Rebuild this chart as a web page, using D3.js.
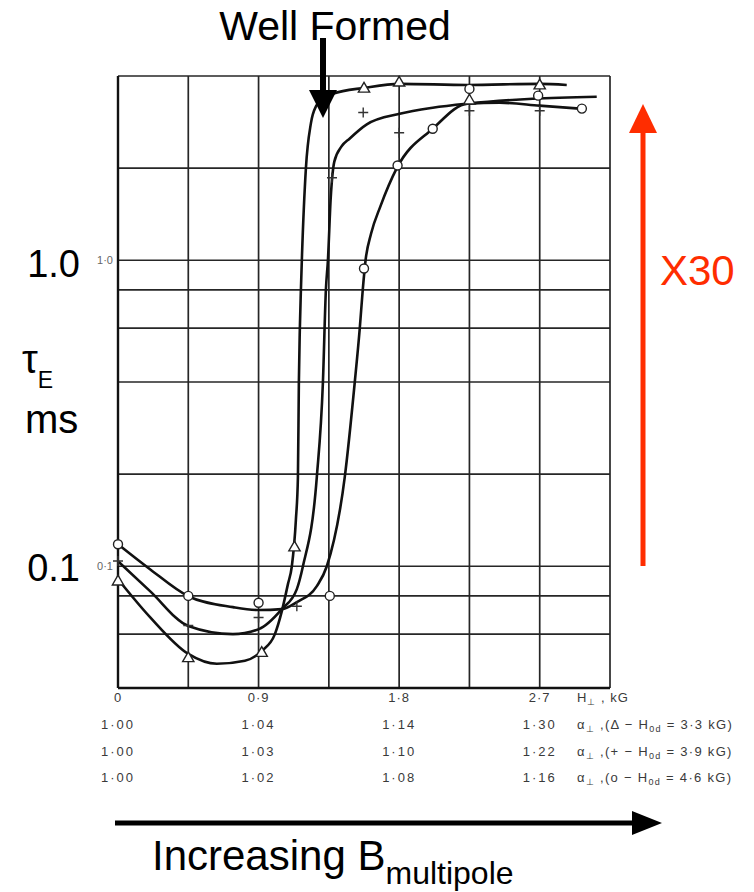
<!DOCTYPE html>
<html><head><meta charset="utf-8">
<script src="https://cdn.jsdelivr.net/npm/d3@7"></script>
<style>body{margin:0;background:#fff}svg{display:block}</style>
</head><body><svg id="c" width="754" height="892"></svg>
<script>
// ---- data ----
const xGrid = [0, 0.45, 0.9, 1.35, 1.8, 2.25, 2.7, 3.15];
const yGrid = [0.04, 0.06, 0.08, 0.1, 0.2, 0.4, 0.6, 0.8, 1, 2, 4];
const xTickValues = [0, 0.9, 1.8, 2.7];
const xTickLabels = ["0", "0·9", "1·8", "2·7"];
const yTickValues = [1, 0.1];
const yTickLabels = ["1·0", "0·1"];
const alphaTriangle = ["1·00", "1·04", "1·14", "1·30"];
const alphaPlus = ["1·00", "1·03", "1·10", "1·22"];
const alphaCircle = ["1·00", "1·02", "1·08", "1·16"];
const legendSymbols = ["Δ", "+", "o"];
const legendH0d = ["3·3", "3·9", "4·6"];

// fitted curves (H⊥ in kG, τE in ms)
const curveTriangleX = [0, 0.205, 0.45, 0.633, 0.8125, 0.921, 1.0045, 1.049, 1.088, 1.113, 1.139, 1.152, 1.158, 1.164, 1.171, 1.177, 1.203, 1.235, 1.27, 1.32, 1.376, 1.58, 1.804, 2.239, 2.70, 2.873];
const curveTriangleY = [0.0907, 0.0682, 0.0517, 0.0480, 0.0491, 0.0529, 0.0600, 0.0713, 0.0874, 0.100, 0.142, 0.196, 0.400, 0.591, 0.799, 1.0, 1.995, 2.8, 3.2, 3.4, 3.50, 3.66, 3.77, 3.74, 3.77, 3.74];
const curvePlusX = [0, 0.205, 0.45, 0.736, 0.902, 1.049, 1.145, 1.184, 1.273, 1.312, 1.331, 1.344, 1.362, 1.385, 1.43, 1.484, 1.593, 1.804, 2.015, 2.239, 2.655, 3.065];
const curvePlusY = [0.1038, 0.0829, 0.0638, 0.0600, 0.0623, 0.0724, 0.0842, 0.100, 0.196, 0.400, 0.80, 1.0, 1.6, 2.1, 2.35, 2.5, 2.78, 3.01, 3.15, 3.25, 3.37, 3.42];
const curveCircleX = [0, 0.205, 0.45, 0.736, 0.902, 1.049, 1.145, 1.273, 1.337, 1.452, 1.516, 1.548, 1.567, 1.585, 1.62, 1.68, 1.785, 2.015, 2.239, 2.444, 2.70, 2.956];
const curveCircleY = [0.118, 0.0978, 0.0798, 0.0735, 0.0719, 0.0724, 0.0763, 0.0861, 0.100, 0.196, 0.400, 0.60, 0.80, 1.0, 1.22, 1.5, 2.0, 2.69, 3.25, 3.27, 3.20, 3.13];

// measured points
const markTriangleX = [0, 0.45, 0.92, 1.13, 1.575, 1.8, 2.25, 2.7];
const markTriangleY = [0.089, 0.050, 0.052, 0.115, 3.63, 3.80, 3.32, 3.72];
const markPlusX = [0, 0.45, 0.9, 1.145, 1.37, 1.57, 1.8, 2.25, 2.7];
const markPlusY = [0.104, 0.064, 0.068, 0.074, 1.86, 3.04, 2.61, 3.08, 3.08];
const markCircleX = [0, 0.45, 0.9, 1.356, 1.575, 1.79, 2.015, 2.25, 2.69, 2.97];
const markCircleY = [0.118, 0.080, 0.076, 0.080, 0.94, 2.04, 2.69, 3.63, 3.45, 3.13];

// ---- drawing ----
const svg = d3.select("#c");
const x = d3.scaleLinear().domain([0, 3.15]).range([118, 610]);
const y = d3.scaleLog().domain([0.04, 4]).range([688, 76]);
const ink = "#262626";
const sans = "'Liberation Sans', Arial, sans-serif";

// grid
const g = svg.append("g");
g.selectAll(".vg").data(xGrid).enter().append("line")
  .attr("x1", d => x(d)).attr("x2", d => x(d)).attr("y1", y(4)).attr("y2", y(0.04))
  .attr("stroke", ink).attr("stroke-width", 1.7);
g.selectAll(".hg").data(yGrid).enter().append("line")
  .attr("y1", d => y(d)).attr("y2", d => y(d)).attr("x1", x(0)).attr("x2", x(3.15))
  .attr("stroke", ink).attr("stroke-width", 1.7);
// frame
g.append("line").attr("x1", x(0)).attr("x2", x(0)).attr("y1", y(4)).attr("y2", y(0.04)).attr("stroke", "#111").attr("stroke-width", 2.4);
g.append("line").attr("x1", x(0)).attr("x2", x(3.15)).attr("y1", y(0.04)).attr("y2", y(0.04)).attr("stroke", "#111").attr("stroke-width", 2.6);

// x axis labels
const small = 13;
const smallFill = "#3a3a3a";
g.selectAll(".xt").data(xTickValues).enter().append("text")
  .attr("x", d => x(d)).attr("y", 702).attr("text-anchor", "middle")
  .attr("font-family", sans).attr("font-size", small).attr("fill", smallFill).attr("letter-spacing", 1)
  .text((d, i) => xTickLabels[i]);
g.append("text").attr("x", 577).attr("y", 702).attr("font-family", sans).attr("font-size", small).attr("fill", smallFill).attr("letter-spacing", 1)
  .call(t => { t.append("tspan").text("H"); t.append("tspan").attr("font-size", 9).attr("dy", 3).text("⊥"); t.append("tspan").attr("dy", -3).text(" ,  kG"); });

const rows = [alphaTriangle, alphaPlus, alphaCircle];
rows.forEach((row, r) => {
  const yy = 729 + r * 26.5;
  g.selectAll(".row" + r).data(xTickValues).enter().append("text")
    .attr("x", d => x(d)).attr("y", yy).attr("text-anchor", "middle")
    .attr("font-family", sans).attr("font-size", small).attr("fill", smallFill).attr("letter-spacing", 2)
    .text((d, i) => row[i]);
  const t = g.append("text").attr("x", 577).attr("y", yy).attr("font-family", sans).attr("font-size", small).attr("fill", smallFill).attr("letter-spacing", 1.3);
  t.append("tspan").text("α");
  t.append("tspan").attr("font-size", 9).attr("dy", 3).text("⊥");
  t.append("tspan").attr("dy", -3).text(" ,(" + legendSymbols[r] + " − H");
  t.append("tspan").attr("font-size", 9).attr("dy", 3).text("0d");
  t.append("tspan").attr("dy", -3).text(" = " + legendH0d[r] + " kG)");
});

// y tick labels (scan)
g.selectAll(".yt").data(yTickValues).enter().append("text")
  .attr("x", 113).attr("y", d => y(d) + 4).attr("text-anchor", "end")
  .attr("font-family", sans).attr("font-size", 11).attr("fill", "#666")
  .text((d, i) => yTickLabels[i]);

// curves
const line = d3.line().x(d => x(d[0])).y(d => y(d[1])).curve(d3.curveMonotoneX);
const zip = (a, b) => a.map((v, i) => [v, b[i]]);
[[curveTriangleX, curveTriangleY], [curvePlusX, curvePlusY], [curveCircleX, curveCircleY]].forEach(([cx, cy]) => {
  svg.append("path").attr("d", line(zip(cx, cy))).attr("fill", "none").attr("stroke", "#111").attr("stroke-width", 2.6);
});

// markers
svg.selectAll(".mt").data(zip(markTriangleX, markTriangleY)).enter().append("path")
  .attr("transform", d => `translate(${x(d[0])},${y(d[1])})`)
  .attr("d", d3.symbol().type(d3.symbolTriangle).size(55))
  .attr("fill", "#fff").attr("stroke", "#222").attr("stroke-width", 1.4);
svg.selectAll(".mp").data(zip(markPlusX, markPlusY)).enter().append("path")
  .attr("transform", d => `translate(${x(d[0])},${y(d[1])})`)
  .attr("d", "M-5,0H5M0,-5V5")
  .attr("fill", "none").attr("stroke", "#333").attr("stroke-width", 1.4);
svg.selectAll(".mc").data(zip(markCircleX, markCircleY)).enter().append("circle")
  .attr("cx", d => x(d[0])).attr("cy", d => y(d[1])).attr("r", 4.5)
  .attr("fill", "#fff").attr("stroke", "#222").attr("stroke-width", 1.4);

// annotations
svg.append("text").attr("x", 335).attr("y", 40).attr("text-anchor", "middle")
  .attr("font-family", sans).attr("font-size", 41).attr("fill", "#000").text("Well Formed");
svg.append("line").attr("x1", 323).attr("x2", 323).attr("y1", 38).attr("y2", 92).attr("stroke", "#000").attr("stroke-width", 6);
svg.append("path").attr("d", "M309,90L337,90L323,118Z").attr("fill", "#000");

svg.append("text").attr("x", 80).attr("y", 277).attr("text-anchor", "end")
  .attr("font-family", sans).attr("font-size", 38).attr("fill", "#000").text("1.0");
svg.append("text").attr("x", 80).attr("y", 581).attr("text-anchor", "end")
  .attr("font-family", sans).attr("font-size", 38).attr("fill", "#000").text("0.1");
const tau = svg.append("text").attr("x", 22).attr("y", 373).attr("font-family", sans).attr("font-size", 40).attr("fill", "#000");
tau.append("tspan").text("τ");
tau.append("tspan").attr("font-size", 23).attr("dy", 15).text("E");
svg.append("text").attr("x", 25).attr("y", 433).attr("font-family", sans).attr("font-size", 40).attr("fill", "#000").text("ms");

const red = "#ff2d00";
svg.append("line").attr("x1", 643).attr("x2", 643).attr("y1", 566).attr("y2", 128).attr("stroke", red).attr("stroke-width", 5);
svg.append("path").attr("d", "M629,133L657,133L643,104Z").attr("fill", red);
svg.append("text").attr("x", 660).attr("y", 285).attr("font-family", sans).attr("font-size", 42).attr("fill", red).text("X30");

svg.append("line").attr("x1", 115).attr("x2", 636).attr("y1", 823).attr("y2", 823).attr("stroke", "#000").attr("stroke-width", 5);
svg.append("path").attr("d", "M632,811L632,835L662,823Z").attr("fill", "#000");
const inc = svg.append("text").attr("x", 152).attr("y", 870).attr("font-family", sans).attr("font-size", 42).attr("fill", "#000");
inc.append("tspan").text("Increasing B");
inc.append("tspan").attr("font-size", 32).attr("dy", 14).text("multipole");
</script></body></html>
